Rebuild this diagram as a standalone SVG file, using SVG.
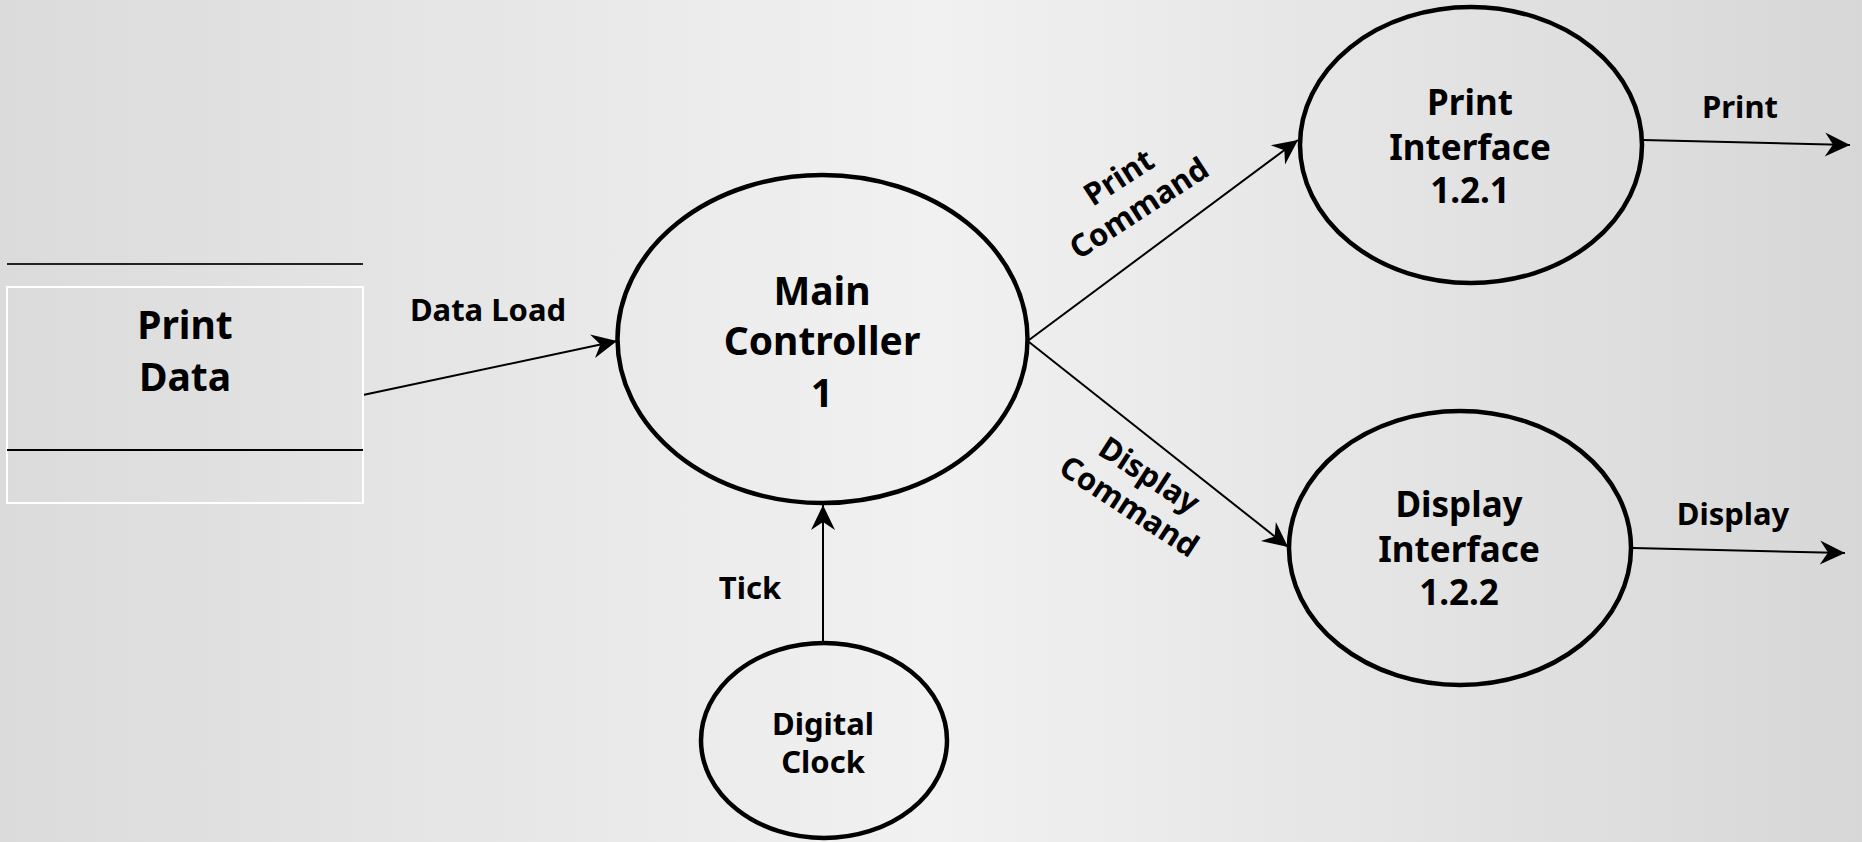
<svg xmlns="http://www.w3.org/2000/svg" width="1862" height="842" viewBox="0 0 1862 842">
  <defs>
    <linearGradient id="bg" x1="0" y1="0" x2="1" y2="0">
      <stop offset="0" stop-color="#dbdbdb"/>
      <stop offset="0.5" stop-color="#f1f1f1"/>
      <stop offset="1" stop-color="#d7d7d7"/>
    </linearGradient>
    <marker id="arrow" viewBox="-26 -13 27 26" refX="0" refY="0" markerWidth="27" markerHeight="26" markerUnits="userSpaceOnUse" orient="auto">
      <path d="M0,0 L-25,-12 L-17,0 L-25,12 Z" fill="#000"/>
    </marker>
    <style>
      .proc { fill: none; stroke: #000; stroke-width: 4.5; }
      .conn { fill: none; stroke: #000; stroke-width: 2; marker-end: url(#arrow); }
      .t { font-family: "Noto Sans", "Open Sans", sans-serif; font-weight: bold; fill: #000; text-anchor: middle; }
      .big { font-size: 39px; }
      .mid { font-size: 35px; }
      .lbl { font-size: 31px; }
    </style>
  </defs>

  <rect x="0" y="0" width="1862" height="842" fill="url(#bg)"/>

  <g id="connectors">
    <line class="conn" x1="363" y1="395" x2="617" y2="341"/>
    <line class="conn" x1="1029" y1="340" x2="1298" y2="140"/>
    <line class="conn" x1="1029" y1="342" x2="1288" y2="547"/>
    <line class="conn" x1="823" y1="643" x2="823" y2="505"/>
    <line class="conn" x1="1643" y1="140" x2="1850" y2="145"/>
    <line class="conn" x1="1633" y1="548" x2="1845" y2="553"/>
    <text class="t lbl" x="488" y="321">Data Load</text>
    <text class="t lbl" x="750" y="599">Tick</text>
    <text class="t lbl" x="1740" y="118">Print</text>
    <text class="t lbl" x="1733" y="525">Display</text>
    <text class="t lbl" transform="translate(1129,193) rotate(-33)"><tspan x="0" y="-8">Print</tspan><tspan x="0" y="29">Command</tspan></text>
    <text class="t lbl" transform="translate(1139,491) rotate(33)"><tspan x="0" y="-8">Display</tspan><tspan x="0" y="29">Command</tspan></text>
  </g>

  <g id="print-data">
    <line x1="7" y1="264" x2="363" y2="264" stroke="#222" stroke-width="2"/>
    <rect x="7" y="287" width="356" height="216" fill="none" stroke="#fff" stroke-width="2"/>
    <line x1="7" y1="450" x2="363" y2="450" stroke="#000" stroke-width="2"/>
    <text class="t big" x="185" y="339">Print</text>
    <text class="t big" x="185" y="391">Data</text>
  </g>

  <g id="main-controller">
    <ellipse class="proc" cx="822.5" cy="339" rx="205" ry="164"/>
    <text class="t big" x="822" y="305">Main</text>
    <text class="t big" x="822" y="355">Controller</text>
    <text class="t big" x="822" y="407">1</text>
  </g>

  <g id="print-interface">
    <ellipse class="proc" cx="1471" cy="145" rx="171" ry="138"/>
    <text class="t mid" x="1470" y="115">Print</text>
    <text class="t mid" x="1470" y="160">Interface</text>
    <text class="t mid" x="1470" y="203">1.2.1</text>
  </g>

  <g id="display-interface">
    <ellipse class="proc" cx="1460" cy="548" rx="171" ry="137"/>
    <text class="t mid" x="1459" y="517">Display</text>
    <text class="t mid" x="1459" y="562">Interface</text>
    <text class="t mid" x="1459" y="605">1.2.2</text>
  </g>

  <g id="digital-clock">
    <ellipse class="proc" cx="824" cy="740.5" rx="123" ry="97.5"/>
    <text class="t lbl" x="823" y="735">Digital</text>
    <text class="t lbl" x="823" y="773">Clock</text>
  </g>
</svg>
